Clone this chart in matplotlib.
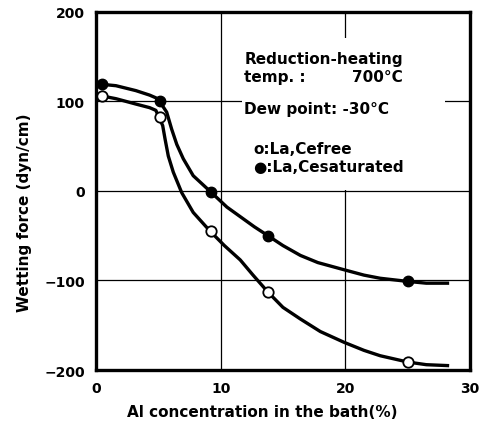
import matplotlib.pyplot as plt
from matplotlib.patches import Rectangle

# measured points
x_pts = [0.5, 5.1, 9.2, 13.8, 25.0]
free_pts = [106, 82, -45, -113, -191]
sat_pts = [119, 100, -1, -50, -101]

# curves
free_cx = [0.05, 0.5, 1.6, 3.2, 4.3, 4.8, 5.06, 5.35, 5.54, 5.8, 6.2, 6.88, 7.8, 9.16,
           10.3, 11.57, 12.6, 13.8, 15.0, 16.4, 18.0, 19.9, 21.5, 22.8, 25.0, 26.5, 28.2]
free_cy = [108, 106, 103, 97, 93, 90, 82, 73, 58, 39, 21, -2, -24, -45,
           -61, -77, -94, -113, -130, -143, -157, -169, -178, -184, -191, -194, -195]
sat_cx = [0.05, 0.5, 1.6, 3.2, 4.3, 4.8, 5.1, 5.67, 6.07, 6.48, 7.0, 7.8, 9.2, 10.5,
          11.6, 12.7, 13.8, 15.0, 16.4, 17.8, 19.9, 21.5, 22.8, 25.0, 26.5, 28.2]
sat_cy = [121, 119, 117.5, 112, 107, 104, 100, 88, 69, 52, 36, 17, -1, -18,
          -29, -40, -50, -61, -72, -80, -88, -94, -97.5, -101, -103, -103]

plt.rcParams['font.family'] = ['DejaVu Sans']
fig = plt.figure(figsize=(4.8, 4.27), dpi=100)
ax = fig.add_axes([0.2, 0.131, 0.779, 0.839])

for v in [10, 20]:
    ax.axvline(v, color='k', lw=0.9, zorder=1)
for v in [100, 0, -100]:
    ax.axhline(v, color='k', lw=0.9, zorder=1)

# white area behind the annotation text
ax.add_patch(Rectangle((11.7, 1.5), 16.3, 169, facecolor='white', edgecolor='none', zorder=2))

ax.plot(free_cx, free_cy, color='k', lw=2.4, zorder=3, solid_joinstyle='round')
ax.plot(sat_cx, sat_cy, color='k', lw=2.4, zorder=3, solid_joinstyle='round')
ax.plot(x_pts, free_pts, 'o', mfc='white', mec='k', mew=1.3, ms=7.5, zorder=4)
ax.plot(x_pts, sat_pts, 'o', mfc='k', mec='k', ms=7.5, zorder=4)

ax.set_xlim(0, 30)
ax.set_ylim(-200, 200)
ax.set_xticks([0, 10, 20, 30])
ax.set_yticks([-200, -100, 0, 100, 200])
ax.tick_params(length=0, labelsize=10, pad=8)
for lab in ax.get_xticklabels() + ax.get_yticklabels():
    lab.set_fontweight('bold')
for s in ax.spines.values():
    s.set_linewidth(2.4)

ax.set_xlabel("Al concentration in the bath(%)", fontsize=11, fontweight='bold')
ax.set_ylabel("Wetting force (dyn/cm)", fontsize=11, fontweight='bold')
ax.xaxis.set_label_coords(0.444, -0.096)
ax.yaxis.set_label_coords(-0.171, 0.441)

tk = dict(fontsize=11, fontweight='bold', va='center', zorder=5)
ax.text(11.9, 148, "Reduction-heating", **tk)
ax.text(11.9, 128, "temp. :", **tk)
ax.text(24.6, 128, "700°C", ha='right', **tk)
ax.text(11.9, 92, "Dew point: -30°C", **tk)
ax.text(12.6, 47, "o:La,Cefree", **tk)
ax.text(12.6, 27, "●:La,Cesaturated", **tk)

fig.savefig("out.png", dpi=100)
